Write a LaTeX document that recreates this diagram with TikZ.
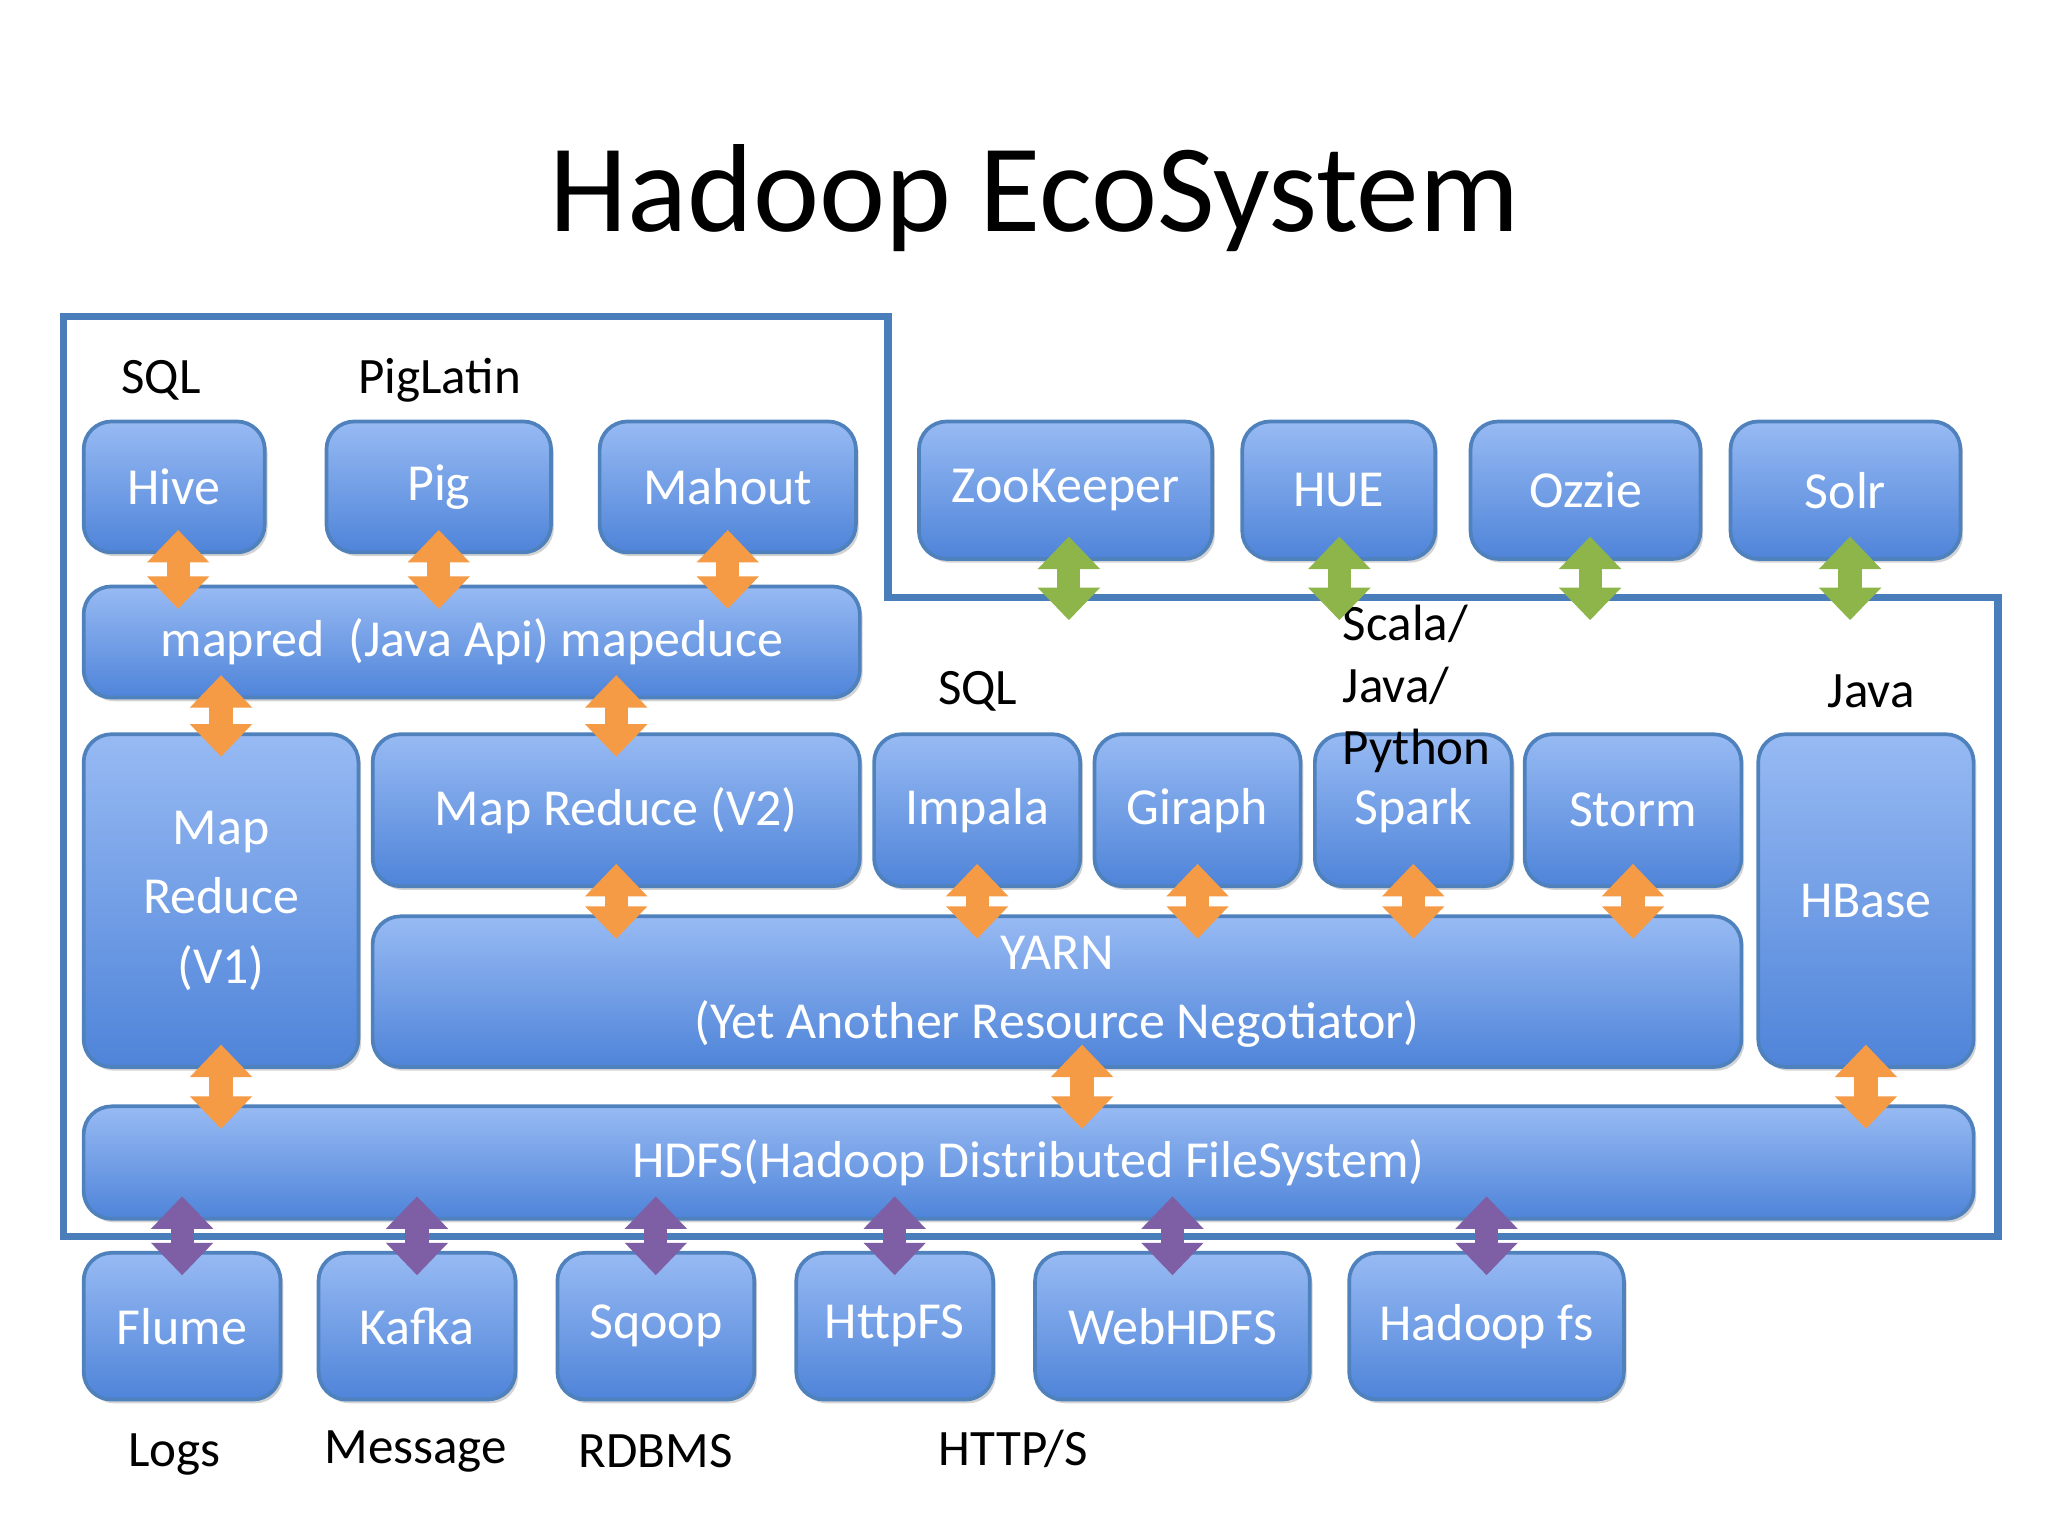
\documentclass[tikz,border=0pt]{standalone}
\usepackage{fontspec}
\setmainfont{Carlito}
\usetikzlibrary{arrows.meta,shadows}

\definecolor{boxtop}{HTML}{97BAF3}
\definecolor{boxbot}{HTML}{4F84D9}
\definecolor{boxline}{HTML}{4F81BD}
\definecolor{frame}{HTML}{4A7EBB}
\definecolor{orangearr}{HTML}{F59A45}
\definecolor{greenarr}{HTML}{8DB54A}
\definecolor{purplearr}{HTML}{7E5FA6}

\tikzset{
  blk/.style={draw=boxline, line width=0.8pt, rounded corners=6pt,
    top color=boxtop, bottom color=boxbot, text=white, align=center,
    font=\fontsize{11.2}{15}\selectfont, inner sep=0pt, outer sep=0pt,
    drop shadow={shadow xshift=0.6pt, shadow yshift=-0.8pt, opacity=0.35}},
  link/.style={draw=#1, line width=5pt,
    {Triangle[length=7pt,width=13pt]}-{Triangle[length=7pt,width=13pt]},
    shorten <=-0.17cm, shorten >=-0.17cm},
  lbl/.style={font=\fontsize{11}{14}\selectfont, align=left}
}

% block from its corners
\newcommand\blk[6]{%
  \pgfmathsetmacro\bw{(#4-#2)*0.01-0.028}%
  \pgfmathsetmacro\bh{(#5-#3)*0.01-0.028}%
  \node[blk, minimum width=\bw cm, minimum height=\bh cm]
    (#1) at ({(#2+#4)/2},{(#3+#5)/2}) {#6};}

\begin{document}
\begin{tikzpicture}[x=0.01cm,y=-0.01cm]
  \useasboundingbox (0,0) rectangle (1552,1164);

  \node[font=\fontsize{27}{32}\selectfont] (title) at (784,150) {Hadoop EcoSystem};

  % outline
  \draw[frame, line width=1.6pt] (48,240) -- (673,240) -- (673,453) -- (1514,453)
    -- (1514,937) -- (48,937) -- cycle;

  % top row
  \blk{hive}{62}{318}{202}{420}{Hive}
  \blk{pig}{246}{318}{419}{420}{Pig}
  \blk{mahout}{453}{318}{650}{420}{Mahout}
  \blk{zk}{695}{318}{920}{425}{ZooKeeper}
  \blk{hue}{940}{318}{1089}{425}{HUE}
  \blk{ozzie}{1113}{318}{1290}{425}{Ozzie}
  \blk{solr}{1310}{318}{1487}{425}{Solr}

  \blk{mapred}{62}{443}{653}{530}{mapred\ \ (Java Api) mapeduce}

  \blk{mrv1}{62}{555}{273}{810}{Map\\Reduce\\(V1)}
  \blk{mrv2}{281}{555}{653}{673}{Map Reduce (V2)}
  \blk{impala}{661}{555}{820}{673}{Impala}
  \blk{giraph}{828}{555}{987}{673}{Giraph}
  \blk{spark}{995}{555}{1147}{673}{Spark}
  \blk{storm}{1154}{555}{1321}{673}{Storm}
  \blk{hbase}{1331}{555}{1497}{810}{HBase}
  \blk{yarn}{281}{693}{1321}{810}{YARN\\(Yet Another Resource Negotiator)}

  \blk{hdfs}{62}{837}{1497}{925}{HDFS(Hadoop Distributed FileSystem)}

  % bottom row
  \blk{flume}{62}{948}{214}{1062}{Flume}
  \blk{kafka}{240}{948}{392}{1062}{Kafka}
  \blk{sqoop}{421}{948}{573}{1062}{Sqoop}
  \blk{httpfs}{602}{948}{754}{1062}{HttpFS}
  \blk{webhdfs}{783}{948}{994}{1062}{WebHDFS}
  \blk{hadoopfs}{1021}{948}{1232}{1062}{Hadoop fs}

  % labels
  \node[lbl] (lsql) at (122,288) {SQL};
  \node[lbl] (lpig) at (333,288) {PigLatin};
  \node[lbl] (lsql2) at (741,524) {SQL};
  \node[lbl, anchor=north west, inner sep=0pt, font=\fontsize{11}{13.3}\selectfont] (lscala) at (1017,458) {Scala/\\Java/\\Python};
  \node[lbl] (ljava) at (1418,524) {Java};
  \node[lbl] (llogs) at (132,1102) {Logs};
  \node[lbl] (lmsg) at (315,1100) {Message};
  \node[lbl] (lrdbms) at (497,1100) {RDBMS};
  \node[lbl] (lhttp) at (768,1098) {HTTP/S};

  % orange links
  \draw[link=orangearr] ([xshift=0.03cm]hive.south) -- ([xshift=0.03cm]hive.south |- mapred.north);
  \draw[link=orangearr] (pig.south) -- (pig.south |- mapred.north);
  \draw[link=orangearr] (mahout.south) -- (mahout.south |- mapred.north);
  \draw[link=orangearr] (mrv1.north |- mapred.south) -- (mrv1.north);
  \draw[link=orangearr] (mrv2.north |- mapred.south) -- (mrv2.north);
  \draw[link=orangearr] (mrv2.south) -- (mrv2.south |- yarn.north);
  \draw[link=orangearr] (impala.south) -- (impala.south |- yarn.north);
  \draw[link=orangearr] (giraph.south) -- (giraph.south |- yarn.north);
  \draw[link=orangearr] (spark.south) -- (spark.south |- yarn.north);
  \draw[link=orangearr] (storm.south) -- (storm.south |- yarn.north);
  \draw[link=orangearr] (mrv1.south) -- (mrv1.south |- hdfs.north);
  \draw[link=orangearr] ([xshift=0.19cm]yarn.south) -- ([xshift=0.19cm]yarn.south |- hdfs.north);
  \draw[link=orangearr] (hbase.south) -- (hbase.south |- hdfs.north);

  % green links
  \coordinate (zkend) at (810,453);
  \coordinate (hueend) at (1015,453);
  \coordinate (ozend) at (1205,453);
  \coordinate (solrend) at (1402,453);
  \draw[link=greenarr] (zk.south -| zkend) -- (zkend);
  \draw[link=greenarr] (hue.south -| hueend) -- (hueend);
  \draw[link=greenarr] (ozzie.south -| ozend) -- (ozend);
  \draw[link=greenarr] (solr.south -| solrend) -- (solrend);

  % purple links
  \draw[link=purplearr] (flume.north |- hdfs.south) -- (flume.north);
  \draw[link=purplearr] (kafka.north |- hdfs.south) -- (kafka.north);
  \draw[link=purplearr] (sqoop.north |- hdfs.south) -- (sqoop.north);
  \draw[link=purplearr] (httpfs.north |- hdfs.south) -- (httpfs.north);
  \draw[link=purplearr] (webhdfs.north |- hdfs.south) -- (webhdfs.north);
  \draw[link=purplearr] (hadoopfs.north |- hdfs.south) -- (hadoopfs.north);
\end{tikzpicture}
\end{document}
